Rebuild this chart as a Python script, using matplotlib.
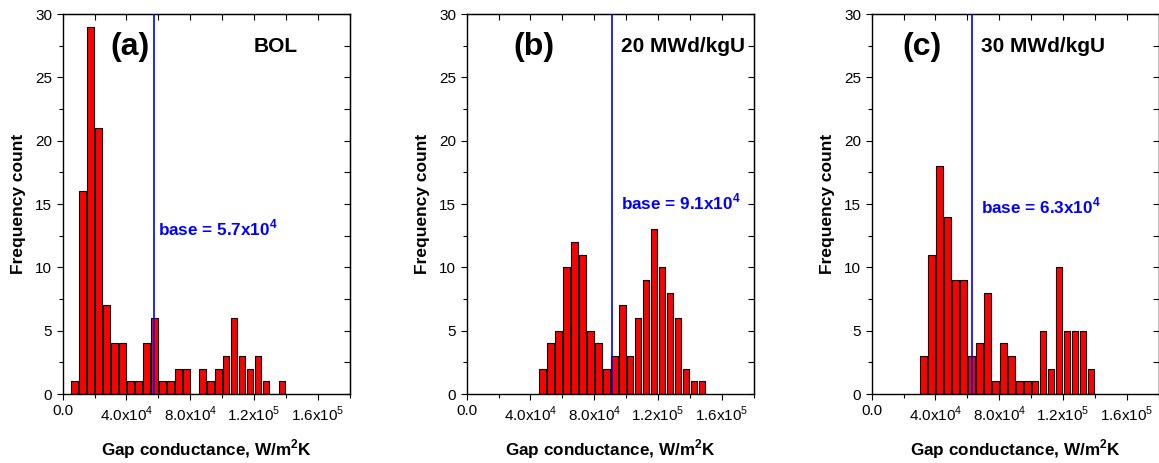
import matplotlib
matplotlib.use('Agg')
import matplotlib.pyplot as plt
from matplotlib.ticker import MultipleLocator, FixedLocator

plt.rcParams['font.family'] = ['Liberation Sans', 'DejaVu Sans']
plt.rcParams['mathtext.fontset'] = 'custom'
plt.rcParams['mathtext.rm'] = 'Liberation Sans'
plt.rcParams['mathtext.bf'] = 'Liberation Sans:bold'

# bin centres are 7500 + 5000*k
bin_width = 5000
first_bin_a = 7500
first_bin_b = 47500
first_bin_c = 32500

counts_a = [1, 16, 29, 21, 7, 4, 4, 1, 1, 4, 6, 1, 1, 2, 2, 0, 2, 1, 2, 3, 6, 3, 2, 3, 1, 0, 1]
counts_b = [2, 4, 5, 10, 12, 11, 5, 4, 2, 3, 7, 3, 6, 9, 13, 10, 8, 6, 2, 1, 1]
counts_c = [3, 11, 18, 14, 9, 9, 3, 4, 8, 1, 4, 3, 1, 1, 1, 5, 2, 10, 5, 5, 5, 2]

base_values = [5.7e4, 9.1e4, 6.3e4]
base_labels = [r'base = 5.7x10$^{\mathbf{4}}$', r'base = 9.1x10$^{\mathbf{4}}$', r'base = 6.3x10$^{\mathbf{4}}$']
panel_tags = ['(a)', '(b)', '(c)']
burnup_labels = ['BOL', '20 MWd/kgU', '30 MWd/kgU']

xtick_values = [0, 4e4, 8e4, 1.2e5, 1.6e5]
xtick_labels = ['0.0', r'4.0x10$^{4}$', r'8.0x10$^{4}$', r'1.2x10$^{5}$', r'1.6x10$^{5}$']

# text positions (data coords): tag x, burnup x, base label (x, y)
tag_x = [3.0e4, 2.9e4, 1.9e4]
burnup_x = [12.0e4, 9.69e4, 6.88e4]
base_pos = [(5.97e4, 13.1), (9.69e4, 15.15), (6.88e4, 14.8)]

fig = plt.figure(figsize=(11.59, 4.63), dpi=100)
lefts = [62.7 / 1159, 466.7 / 1159, 871.7 / 1159]
all_counts = [counts_a, counts_b, counts_c]
firsts = [first_bin_a, first_bin_b, first_bin_c]

for i in range(3):
    ax = fig.add_axes([lefts[i], 69 / 463, 287 / 1159, 380 / 463])
    centres = [firsts[i] + bin_width * k for k in range(len(all_counts[i]))]
    ax.bar(centres, all_counts[i], width=4200, color='red', edgecolor='black', linewidth=0.8, zorder=2)
    ax.axvline(base_values[i], color='blue', linewidth=1.2, zorder=3)

    ax.set_xlim(0, 1.8e5)
    ax.set_ylim(0, 30)
    ax.xaxis.set_major_locator(FixedLocator(xtick_values))
    ax.set_xticklabels(xtick_labels)
    ax.xaxis.set_minor_locator(MultipleLocator(2e4))
    ax.yaxis.set_major_locator(MultipleLocator(5))
    ax.yaxis.set_minor_locator(MultipleLocator(2.5))
    ax.tick_params(axis='both', which='major', labelsize=11, length=4, width=0.8, direction='out')
    ax.tick_params(axis='both', which='minor', length=3, width=0.8, direction='out')
    # inward ticks on top and right
    sec_x = ax.secondary_xaxis('top')
    sec_x.xaxis.set_major_locator(MultipleLocator(2e4))
    sec_x.tick_params(direction='in', length=4, width=0.8, labeltop=False)
    sec_y = ax.secondary_yaxis('right')
    sec_y.yaxis.set_major_locator(MultipleLocator(2.5))
    sec_y.tick_params(direction='in', length=4, width=0.8, labelright=False)

    for sp in ax.spines.values():
        sp.set_linewidth(1.0)

    ax.set_ylabel('Frequency count', fontsize=12.5, fontweight='bold', labelpad=7)
    ax.set_xlabel(r'Gap conductance, W/m$^{\mathbf{2}}$K', fontsize=12.3, fontweight='bold', labelpad=10)

    ax.text(tag_x[i], 27.4, panel_tags[i], fontsize=23, fontweight='bold', va='center', ha='left')
    ax.text(burnup_x[i], 27.4, burnup_labels[i], fontsize=15, fontweight='bold', va='center', ha='left')
    ax.text(base_pos[i][0], base_pos[i][1], base_labels[i], fontsize=12.3, fontweight='bold',
            color='blue', va='center', ha='left')

fig.savefig('out.png', dpi=100)
